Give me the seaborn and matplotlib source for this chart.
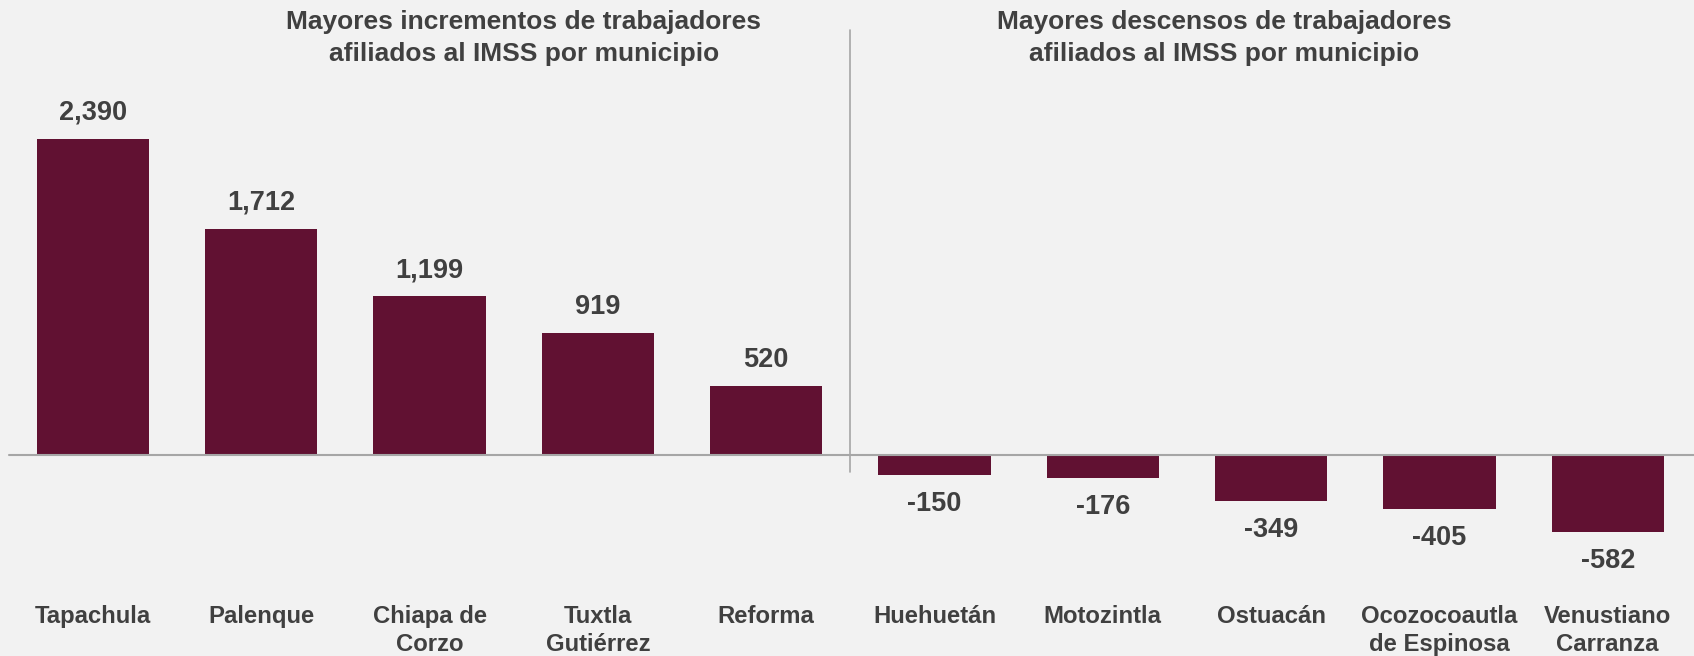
import matplotlib
matplotlib.use("Agg")
import matplotlib.pyplot as plt
import matplotlib.transforms as mtransforms
import seaborn as sns
import pandas as pd

categories = ["Tapachula", "Palenque", "Chiapa de\nCorzo", "Tuxtla\nGutiérrez", "Reforma",
              "Huehuetán", "Motozintla", "Ostuacán", "Ocozocoautla\nde Espinosa", "Venustiano\nCarranza"]
values = [2390, 1712, 1199, 919, 520, -150, -176, -349, -405, -582]
value_labels = ["2,390", "1,712", "1,199", "919", "520", "-150", "-176", "-349", "-405", "-582"]
title_left = "Mayores incrementos de trabajadores\nafiliados al IMSS por municipio"
title_right = "Mayores descensos de trabajadores\nafiliados al IMSS por municipio"

BG = "#F2F2F2"
BAR = "#611132"
TXT = "#404040"
LINE = "#A6A6A6"

sns.set_theme(style="white")
plt.rcParams["font.family"] = ["Liberation Sans", "DejaVu Sans"]

W, H = 1694, 656
fig = plt.figure(figsize=(W / 100, H / 100), dpi=100, facecolor=BG)
ax = fig.add_axes([0, 0, 1, 1])
ax.set_facecolor(BG)

df = pd.DataFrame({"cat": categories, "val": values})
sns.barplot(data=df, x="cat", y="val", color=BAR, saturation=1, width=0.667, ax=ax,
            linewidth=0, edgecolor=BAR)

sp = 168.3
x0 = 93
ax.set_xlim(-x0 / sp, (W - x0) / sp)
ppu = 316 / 2390
zero_from_bottom = H - 455
ax.set_ylim(-zero_from_bottom / ppu, (H - zero_from_bottom) / ppu)
ax.axis("off")

ax.axhline(0, xmin=9 / W, xmax=1, color=LINE, lw=1.5, zorder=5)
ax.plot([4.5, 4.5], [(H - 472 - zero_from_bottom) / ppu, (H - 30 - zero_from_bottom) / ppu],
        color=LINE, lw=1.2, zorder=5)

fs_val = 19.5
for i, (v, lab) in enumerate(zip(values, value_labels)):
    if v >= 0:
        ax.text(i, v + 26 / ppu, lab, ha="center", va="center", fontsize=fs_val, fontweight="bold", color=TXT)
    else:
        ax.text(i, v - 29 / ppu, lab, ha="center", va="center", fontsize=fs_val, fontweight="bold", color=TXT)

trans = mtransforms.blended_transform_factory(ax.transData, fig.transFigure)
for i, c in enumerate(categories):
    ax.text(i, 1 - 605 / H, c, transform=trans, ha="center", va="top", fontsize=17.2,
            fontweight="bold", color=TXT, linespacing=1.27)

fs_t = 19
ax.text((524 - x0) / sp, 1 - 10 / H, title_left, transform=trans, ha="center", va="top",
        fontsize=fs_t, fontweight="bold", color=TXT, linespacing=1.42)
ax.text((1224 - x0) / sp, 1 - 10 / H, title_right, transform=trans, ha="center", va="top",
        fontsize=fs_t, fontweight="bold", color=TXT, linespacing=1.42)

fig.savefig("out.png", dpi=100, facecolor=BG)
